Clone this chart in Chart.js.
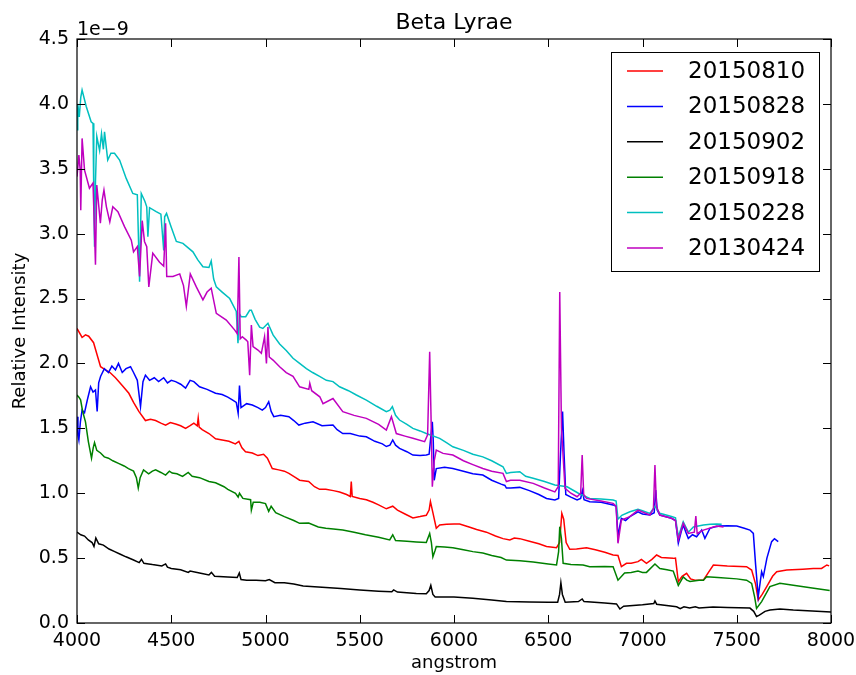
<!DOCTYPE html>
<html>
<head>
<meta charset="utf-8">
<script src="https://cdn.jsdelivr.net/npm/chart.js@4.4.1/dist/chart.umd.min.js"></script>
<style>
  html, body { margin: 0; padding: 0; background: #fff; }
</style>
</head>
<body>
<canvas id="myChart" width="856" height="675"></canvas>
<script>
// intensities are in units of 1e-9 (see the offset label on the y axis)
var seriesLabels = ['20150810', '20150828', '20150902', '20150918', '20150228', '20130424'];
var xTicks = [4000, 4500, 5000, 5500, 6000, 6500, 7000, 7500, 8000];
var yTicks = [0.0, 0.5, 1.0, 1.5, 2.0, 2.5, 3.0, 3.5, 4.0, 4.5];

var wl0810 = [4000,4027,4045,4062,4088,4110,4125,4151,4175,4204,4240,4275,4300,4328,4363,4390,4417,4445,4470,4495,4523,4550,4576,4600,4620,4638,4643,4648,4664,4700,4735,4770,4806,4840,4859,4875,4894,4930,4960,4990,5010,5036,5070,5100,5124,5160,5181,5229,5260,5287,5320,5360,5393,5430,5450,5455,5460,5500,5535,5570,5600,5641,5675,5700,5740,5782,5820,5853,5868,5875,5888,5906,5924,5960,6000,6030,6080,6120,6172,6220,6260,6296,6320,6349,6400,6450,6491,6544,6560,6572,6582,6595,6614,6650,6703,6750,6800,6844,6870,6888,6915,6940,6976,6994,7021,7050,7075,7100,7163,7175,7190,7210,7234,7255,7278,7323,7350,7376,7450,7552,7579,7600,7614,7635,7659,7690,7712,7765,7850,7906,7950,7978,7990];
var fx0810 = [2.27,2.20,2.22,2.21,2.16,2.05,1.975,1.95,1.93,1.89,1.83,1.77,1.70,1.63,1.56,1.57,1.56,1.54,1.525,1.545,1.533,1.52,1.50,1.52,1.54,1.52,1.58,1.51,1.49,1.46,1.42,1.41,1.40,1.38,1.40,1.35,1.32,1.31,1.29,1.30,1.27,1.19,1.18,1.17,1.153,1.12,1.10,1.09,1.05,1.03,1.03,1.02,1.01,0.99,0.975,1.09,0.975,0.96,0.95,0.93,0.91,0.88,0.90,0.87,0.84,0.81,0.82,0.83,0.87,0.935,0.85,0.73,0.755,0.76,0.762,0.763,0.74,0.72,0.70,0.67,0.65,0.64,0.655,0.65,0.63,0.61,0.59,0.58,0.62,0.845,0.80,0.62,0.568,0.57,0.58,0.565,0.545,0.524,0.52,0.434,0.46,0.46,0.473,0.49,0.46,0.49,0.524,0.505,0.498,0.50,0.318,0.36,0.383,0.34,0.33,0.33,0.39,0.447,0.44,0.434,0.408,0.30,0.177,0.22,0.28,0.36,0.395,0.408,0.415,0.42,0.42,0.447,0.44];

var wl0828 = [4000,4005,4010,4018,4027,4040,4055,4072,4085,4098,4107,4115,4125,4145,4167,4185,4204,4220,4240,4260,4284,4300,4320,4337,4350,4363,4385,4410,4433,4460,4480,4500,4523,4550,4576,4600,4620,4650,4690,4735,4770,4800,4824,4845,4855,4862,4870,4900,4930,4960,4983,5000,5017,5030,5044,5080,5124,5150,5177,5210,5252,5300,5358,5380,5410,5450,5500,5535,5580,5620,5641,5660,5675,5690,5711,5750,5782,5820,5853,5868,5878,5885,5890,5895,5906,5950,5994,6050,6100,6153,6200,6250,6270,6278,6300,6349,6400,6450,6491,6535,6555,6565,6576,6584,6593,6620,6653,6672,6681,6690,6720,6780,6844,6860,6870,6880,6888,6910,6933,6976,7000,7039,7062,7070,7078,7092,7120,7154,7175,7190,7205,7216,7230,7243,7265,7287,7314,7331,7358,7380,7411,7450,7500,7540,7570,7588,7600,7614,7625,7632,7641,7660,7685,7700,7720];
var fx0828 = [1.59,1.45,1.41,1.55,1.64,1.62,1.72,1.82,1.78,1.795,1.63,1.85,1.90,1.96,1.93,1.98,1.95,2.0,1.93,1.96,1.975,1.93,1.87,1.667,1.86,1.91,1.87,1.89,1.86,1.89,1.85,1.87,1.86,1.84,1.81,1.87,1.86,1.82,1.80,1.77,1.76,1.74,1.72,1.70,1.615,1.83,1.66,1.69,1.68,1.66,1.64,1.66,1.705,1.63,1.59,1.60,1.59,1.56,1.525,1.54,1.55,1.52,1.525,1.49,1.46,1.46,1.44,1.435,1.40,1.38,1.36,1.37,1.41,1.37,1.345,1.32,1.294,1.29,1.294,1.30,1.45,1.55,1.40,1.10,1.19,1.20,1.19,1.17,1.15,1.14,1.10,1.07,1.06,1.04,1.04,1.045,1.02,0.99,0.96,0.948,0.96,1.30,1.63,1.30,0.99,0.97,0.948,0.96,1.02,0.95,0.935,0.93,0.91,0.90,0.665,0.75,0.807,0.79,0.82,0.857,0.84,0.832,0.85,1.025,0.87,0.832,0.82,0.807,0.79,0.614,0.70,0.755,0.70,0.652,0.68,0.665,0.716,0.652,0.73,0.74,0.747,0.75,0.747,0.73,0.716,0.69,0.45,0.203,0.32,0.395,0.357,0.50,0.627,0.65,0.627];

var wl0902 = [4000,4020,4040,4060,4080,4090,4100,4115,4140,4170,4200,4230,4260,4300,4330,4342,4355,4380,4400,4450,4470,4480,4500,4550,4590,4600,4650,4700,4713,4730,4800,4850,4861,4870,4900,4950,5000,5020,5050,5100,5150,5200,5300,5400,5500,5600,5670,5680,5700,5800,5853,5868,5877,5888,5900,6000,6100,6200,6278,6400,6500,6550,6560,6567,6575,6590,6660,6680,6690,6800,6862,6880,6900,7000,7060,7066,7075,7181,7200,7220,7250,7280,7300,7374,7450,7570,7590,7605,7620,7650,7676,7729,7800,7900,8000];
var fx0902 = [0.70,0.68,0.67,0.64,0.62,0.59,0.655,0.61,0.60,0.57,0.55,0.53,0.51,0.485,0.465,0.49,0.46,0.455,0.45,0.44,0.455,0.43,0.42,0.41,0.39,0.40,0.385,0.37,0.39,0.36,0.355,0.35,0.385,0.335,0.33,0.33,0.325,0.335,0.31,0.31,0.30,0.285,0.275,0.265,0.255,0.245,0.24,0.255,0.238,0.228,0.225,0.25,0.29,0.22,0.20,0.20,0.19,0.178,0.165,0.162,0.16,0.16,0.22,0.31,0.22,0.16,0.165,0.185,0.165,0.155,0.147,0.108,0.13,0.14,0.15,0.17,0.145,0.125,0.11,0.125,0.115,0.125,0.115,0.123,0.12,0.115,0.09,0.05,0.06,0.09,0.10,0.108,0.10,0.093,0.085];

var wl0918 = [4000,4010,4019,4030,4045,4060,4077,4086,4093,4105,4125,4145,4167,4190,4220,4250,4273,4300,4315,4325,4335,4353,4380,4400,4417,4445,4470,4490,4505,4530,4560,4590,4611,4650,4700,4735,4780,4800,4841,4855,4862,4880,4921,4925,4935,4970,5000,5017,5030,5054,5100,5150,5181,5229,5280,5320,5360,5410,5470,5530,5600,5659,5675,5690,5750,5800,5853,5871,5880,5888,5900,5906,5950,5994,6050,6100,6153,6200,6250,6278,6350,6420,6500,6544,6555,6561,6570,6579,6620,6685,6720,6800,6844,6870,6905,6940,6976,7000,7021,7066,7092,7130,7163,7190,7216,7235,7252,7300,7323,7340,7400,7500,7552,7579,7595,7605,7632,7676,7729,7800,7900,7993];
var fx0918 = [1.757,1.74,1.72,1.63,1.55,1.40,1.27,1.35,1.39,1.33,1.31,1.28,1.27,1.25,1.23,1.21,1.19,1.17,1.12,1.04,1.12,1.18,1.15,1.17,1.18,1.16,1.14,1.17,1.155,1.15,1.13,1.16,1.13,1.12,1.09,1.08,1.05,1.03,1.00,0.97,1.00,0.96,0.95,0.87,0.93,0.93,0.92,0.86,0.90,0.85,0.82,0.79,0.768,0.77,0.74,0.73,0.725,0.716,0.70,0.68,0.66,0.64,0.68,0.635,0.63,0.625,0.62,0.69,0.62,0.51,0.56,0.59,0.585,0.58,0.565,0.55,0.54,0.52,0.505,0.485,0.48,0.47,0.455,0.447,0.55,0.742,0.65,0.46,0.45,0.447,0.434,0.435,0.434,0.33,0.385,0.39,0.40,0.39,0.39,0.455,0.42,0.41,0.40,0.29,0.355,0.33,0.32,0.33,0.33,0.357,0.35,0.34,0.33,0.305,0.20,0.113,0.165,0.28,0.306,0.29,0.27,0.25];

var wl0228 = [4000,4004,4012,4020,4027,4049,4075,4085,4089,4093,4098,4105,4120,4130,4140,4146,4163,4180,4199,4226,4261,4296,4320,4332,4341,4360,4370,4376,4385,4420,4445,4460,4465,4475,4500,4527,4562,4590,4615,4640,4668,4700,4712,4725,4739,4770,4810,4845,4854,4862,4871,4895,4916,4925,4945,4969,4986,5013,5040,5075,5110,5146,5181,5217,5250,5287,5323,5358,5393,5440,5482,5535,5590,5641,5660,5673,5690,5711,5750,5782,5820,5853,5924,5960,5994,6050,6100,6153,6200,6260,6278,6300,6349,6380,6420,6480,6535,6600,6660,6720,6780,6844,6860,6870,6890,6933,6976,7000,7039,7066,7092,7154,7175,7190,7216,7243,7270,7323,7360,7393,7420];
var fx0228 = [3.80,4.00,3.90,4.05,4.106,3.98,3.862,3.85,3.30,2.90,3.40,3.75,3.64,3.77,3.65,3.785,3.567,3.62,3.62,3.567,3.426,3.31,3.30,2.63,3.31,3.25,3.207,2.976,3.20,3.17,3.15,2.87,3.13,3.156,3.05,2.94,2.925,2.89,2.86,2.80,2.745,2.74,2.79,2.65,2.59,2.55,2.50,2.40,2.155,2.38,2.36,2.36,2.41,2.41,2.34,2.28,2.27,2.31,2.22,2.15,2.10,2.04,2.0,1.96,1.93,1.90,1.87,1.86,1.82,1.79,1.757,1.718,1.67,1.628,1.64,1.667,1.60,1.564,1.53,1.50,1.48,1.46,1.423,1.39,1.358,1.33,1.30,1.28,1.25,1.204,1.153,1.16,1.166,1.13,1.115,1.09,1.063,1.05,1.00,0.96,0.955,0.948,0.94,0.80,0.83,0.857,0.876,0.865,0.845,0.90,0.845,0.82,0.81,0.665,0.78,0.70,0.74,0.755,0.76,0.763,0.76];

var wl0424 = [4000,4010,4017,4020,4027,4040,4066,4085,4098,4105,4124,4134,4143,4156,4174,4190,4217,4252,4288,4300,4320,4332,4346,4358,4370,4381,4402,4438,4460,4470,4476,4509,4545,4565,4580,4601,4633,4668,4690,4712,4739,4792,4837,4850,4859,4866,4877,4898,4906,4916,4925,4934,4960,4978,4995,5005,5013,5020,5040,5075,5110,5146,5181,5230,5235,5245,5288,5305,5358,5410,5470,5535,5600,5641,5668,5694,5740,5782,5844,5860,5871,5878,5885,5895,5906,5942,5994,6050,6100,6153,6200,6260,6278,6300,6349,6420,6480,6535,6553,6561,6570,6589,6620,6653,6672,6680,6688,6703,6780,6844,6860,6870,6888,6933,6976,7039,7058,7066,7074,7092,7154,7175,7190,7216,7243,7275,7283,7290,7323,7393,7430];
var fx0424 = [3.44,3.605,3.49,3.18,3.734,3.49,3.35,3.39,2.76,3.375,3.08,3.26,3.336,3.207,3.09,3.207,3.17,3.054,2.95,2.86,2.90,2.67,3.10,2.94,2.90,2.59,2.85,2.78,2.75,3.08,2.67,2.67,2.69,2.60,2.44,2.69,2.59,2.49,2.55,2.58,2.386,2.334,2.257,2.23,2.82,2.19,2.206,2.18,2.167,1.91,2.296,2.13,2.103,2.078,2.206,2.0,2.28,2.05,2.026,1.975,1.93,1.90,1.82,1.80,1.847,1.79,1.743,1.69,1.73,1.628,1.60,1.577,1.53,1.487,1.59,1.46,1.44,1.423,1.397,1.45,2.09,1.60,1.05,1.25,1.333,1.307,1.294,1.25,1.22,1.19,1.17,1.153,1.09,1.10,1.10,1.076,1.04,1.01,1.05,2.55,1.50,1.037,1.00,0.973,1.00,1.294,0.99,0.96,0.94,0.922,0.90,0.614,0.794,0.82,0.87,0.832,0.88,1.217,0.90,0.832,0.807,0.79,0.64,0.768,0.69,0.70,0.824,0.69,0.716,0.747,0.74];

var waves = [wl0810, wl0828, wl0902, wl0918, wl0228, wl0424];
var fluxes = [fx0810, fx0828, fx0902, fx0918, fx0228, fx0424];
var lineColors = ['#ff0000', '#0000ff', '#000000', '#008000', '#00bfbf', '#bf00bf'];

var FONT = '"DejaVu Sans", sans-serif';

var datasets = seriesLabels.map(function(label, i) {
  return {
    label: label,
    data: waves[i].map(function(w, j) { return {x: w, y: fluxes[i][j]}; }),
    borderColor: lineColors[i],
    borderWidth: 1.5,
    pointRadius: 0,
    tension: 0,
    fill: false,
    order: seriesLabels.length - i
  };
});

// frame, inward ticks, title, axis labels, offset text and the legend, matplotlib style
var mplDecor = {
  id: 'mplDecor',
  afterDatasetsDraw: function(chart) {
    var ctx = chart.ctx;
    var a = chart.chartArea;
    var xs = chart.scales.x, ys = chart.scales.y;
    ctx.save();
    ctx.strokeStyle = '#000';
    ctx.lineWidth = 1.2;
    ctx.strokeRect(a.left, a.top, a.right - a.left, a.bottom - a.top);
    ctx.lineWidth = 1;
    ctx.beginPath();
    xTicks.forEach(function(t) {
      var px = Math.round(xs.getPixelForValue(t)) + 0.5;
      ctx.moveTo(px, a.bottom); ctx.lineTo(px, a.bottom - 8);
      ctx.moveTo(px, a.top); ctx.lineTo(px, a.top + 8);
    });
    yTicks.forEach(function(t) {
      var py = Math.round(ys.getPixelForValue(t)) + 0.5;
      ctx.moveTo(a.left, py); ctx.lineTo(a.left + 8, py);
      ctx.moveTo(a.right, py); ctx.lineTo(a.right - 8, py);
    });
    ctx.stroke();

    ctx.fillStyle = '#000';
    ctx.font = '22px ' + FONT;
    ctx.textAlign = 'center';
    ctx.textBaseline = 'alphabetic';
    ctx.fillText('Beta Lyrae', (a.left + a.right) / 2, 29);

    ctx.font = '19px ' + FONT;
    ctx.textAlign = 'left';
    ctx.fillText('1e\u22129', a.left, 35);

    ctx.font = '18px ' + FONT;
    ctx.textAlign = 'center';
    ctx.fillText('angstrom', (a.left + a.right) / 2, 668);
    ctx.save();
    ctx.translate(25, (a.top + a.bottom) / 2);
    ctx.rotate(-Math.PI / 2);
    ctx.fillText('Relative Intensity', 0, 0);
    ctx.restore();

    // legend box in the upper right corner
    var bx = 611, by = 52, bw = 208, bh = 219;
    ctx.fillStyle = '#fff';
    ctx.fillRect(bx, by, bw, bh);
    ctx.strokeStyle = '#000';
    ctx.lineWidth = 1;
    ctx.strokeRect(bx + 0.5, by + 0.5, bw, bh);
    ctx.font = '23px ' + FONT;
    ctx.textAlign = 'left';
    ctx.textBaseline = 'middle';
    chart.data.datasets.forEach(function(ds, i) {
      var yy = 71 + i * 35.4;
      ctx.strokeStyle = ds.borderColor;
      ctx.lineWidth = 1.5;
      ctx.beginPath();
      ctx.moveTo(627, yy); ctx.lineTo(663, yy);
      ctx.stroke();
      ctx.fillStyle = '#000';
      ctx.fillText(ds.label, 688, yy + 1);
    });
    ctx.restore();
  }
};

var myChartObject = document.getElementById('myChart');
var chart = new Chart(myChartObject, {
  type: 'line',
  data: { datasets: datasets },
  options: {
    responsive: false,
    animation: false,
    devicePixelRatio: 1,
    layout: { padding: { left: 0, right: 25, top: 39, bottom: 0 } },
    plugins: {
      legend: { display: false },
      tooltip: { enabled: false },
      title: { display: false }
    },
    scales: {
      x: {
        type: 'linear',
        min: 4000,
        max: 8000,
        afterBuildTicks: function(scale) {
          scale.ticks = xTicks.map(function(v) { return {value: v}; });
        },
        afterFit: function(scale) {
          scale.height = 52;
          scale.paddingLeft = 0;
          scale.paddingRight = 0;
        },
        grid: { display: false, drawTicks: false },
        border: { display: false },
        ticks: {
          color: '#000',
          padding: 7,
          maxRotation: 0,
          font: { family: FONT, size: 19 },
          callback: function(v) { return String(v); }
        }
      },
      y: {
        type: 'linear',
        min: 0,
        max: 4.5,
        afterBuildTicks: function(scale) {
          scale.ticks = yTicks.map(function(v) { return {value: v}; });
        },
        afterFit: function(scale) {
          scale.width = 77;
          scale.paddingTop = 0;
          scale.paddingBottom = 0;
        },
        grid: { display: false, drawTicks: false },
        border: { display: false },
        ticks: {
          color: '#000',
          padding: 8,
          font: { family: FONT, size: 19 },
          callback: function(v) { return v.toFixed(1); }
        }
      }
    }
  },
  plugins: [mplDecor]
});
</script>
</body>
</html>
